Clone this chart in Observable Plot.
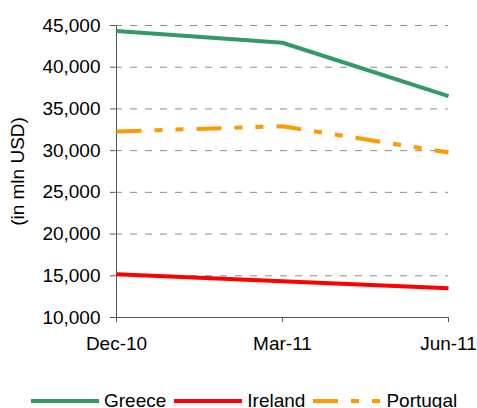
<!DOCTYPE html>
<html>
<head>
<meta charset="utf-8">
<script src="https://cdn.jsdelivr.net/npm/d3@7"></script>
<script src="https://cdn.jsdelivr.net/npm/@observablehq/plot@0.6"></script>
<style>
  body { margin: 0; background: #fff; font-family: "Liberation Sans", Arial, sans-serif; }
  #legend { display: flex; align-items: center; height: 42px; padding-left: 31px; font-size: 19px; color: #000; }
  #legend .item { display: flex; align-items: center; margin-right: 8px; }
  #legend svg { margin-right: 5px; display: block; }
</style>
</head>
<body>
<div id="chart"></div>
<div id="legend"></div>
<script>
const dates = ["Dec-10", "Mar-11", "Jun-11"];
const greece = [44350, 42930, 36530];
const ireland = [15190, 14350, 13510];
const portugal = [32300, 32930, 29780];
const yTicks = [10000, 15000, 20000, 25000, 30000, 35000, 40000, 45000];
const seriesNames = ["Greece", "Ireland", "Portugal"];
const seriesColors = ["#339966", "#FF0000", "#FF9900"];
const seriesDash = [null, null, "25,13,8,13,8,13"];
const seriesValues = [greece, ireland, portugal];

const rows = seriesNames.flatMap((name, i) =>
  dates.map((d, j) => ({series: name, date: d, value: seriesValues[i][j]}))
);

const H = 380;
const fmt = d3.format(",");

const chart = Plot.plot({
  width: 477,
  height: H,
  marginLeft: 115,
  marginRight: 29,
  marginTop: 25,
  marginBottom: H - 317,
  style: {fontFamily: "'Liberation Sans', Arial, sans-serif", fontSize: "19px", color: "#000", background: "#fff"},
  x: {type: "point", domain: dates, padding: 0},
  y: {domain: [10000, 45000]},
  marks: [
    Plot.ruleY(yTicks.filter(t => t > 10000), {stroke: "#8c8c8c", strokeDasharray: "7,8"}),
    Plot.axisY({ticks: yTicks, tickSize: 5, tickPadding: 10, tickFormat: fmt,
      label: "(in mln USD)", labelAnchor: "center", labelArrow: "none", labelOffset: 105, stroke: "#555"}),
    Plot.axisX({tickSize: 5, tickPadding: 14, label: null, stroke: "#555"}),
    Plot.ruleX([dates[0]], {stroke: "#555"}),
    Plot.ruleY([10000], {stroke: "#555"}),
    ...seriesNames.map((name, i) =>
      Plot.line(rows.filter(r => r.series === name), {
        x: "date", y: "value", stroke: seriesColors[i], strokeWidth: 4,
        strokeLinecap: "butt", strokeLinejoin: "round",
        strokeDasharray: seriesDash[i] || undefined
      })
    )
  ]
});
document.getElementById("chart").appendChild(chart);

const legend = document.getElementById("legend");
seriesNames.forEach((name, i) => {
  const item = document.createElement("div");
  item.className = "item";
  const dash = seriesDash[i] ? ` stroke-dasharray="${seriesDash[i]}"` : "";
  item.innerHTML = `<svg width="68" height="6"><line x1="0" x2="68" y1="3" y2="3" stroke="${seriesColors[i]}" stroke-width="4"${dash}/></svg><span>${name}</span>`;
  legend.appendChild(item);
});
</script>
</body>
</html>
